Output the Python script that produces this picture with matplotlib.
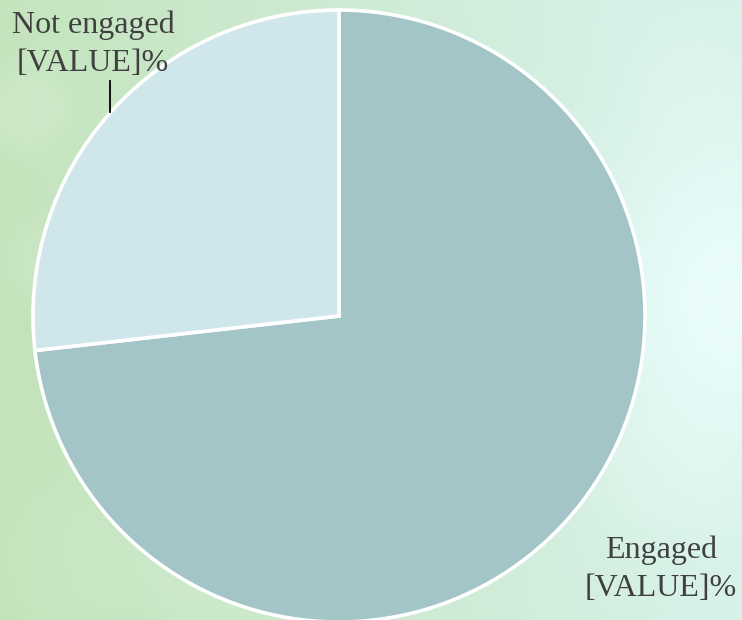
import numpy as np
import matplotlib
matplotlib.use("Agg")
import matplotlib.pyplot as plt
from matplotlib.lines import Line2D

# Data
labels = ["Engaged", "Not engaged"]
values = [73.2, 26.8]
label_texts = ["Engaged\n[VALUE]%", "Not engaged\n[VALUE]%"]
colors = ["#a4c5c8", "#cfe6ea"]

W, H = 742, 620
fig = plt.figure(figsize=(W / 100, H / 100), dpi=100)

# Soft green-to-mint background with a pale glow on the right
bg_ax = fig.add_axes([0, 0, 1, 1])
bg_ax.set_axis_off()
yy, xx = np.mgrid[0:H, 0:W]
u = xx / W
v = yy / H
green = np.array([0.765, 0.890, 0.730])
mint = np.array([0.840, 0.945, 0.905])
t = np.clip(u * 1.05 + 0.1 * (1 - v) - 0.02, 0, 1)[..., None]
img = green * (1 - t) + mint * t
glow_c = np.array([0.915, 0.990, 0.985])
d = np.sqrt(((xx - 730) / 180.0) ** 2 + ((yy - 300) / 240.0) ** 2)
g = np.exp(-d ** 2 * 1.6)[..., None]
img = img * (1 - g) + glow_c * g
# faint bokeh spots
for cx, cy, r, a in [(25, 110, 45, 0.18), (40, 260, 40, 0.10), (200, 560, 70, 0.12),
                     (60, 560, 80, 0.08), (690, 80, 60, 0.10), (660, 470, 70, 0.12)]:
    dd = np.sqrt((xx - cx) ** 2 + (yy - cy) ** 2) / r
    s = (np.exp(-dd ** 4) * a)[..., None]
    img = img * (1 - s) + np.array([0.95, 0.99, 0.95]) * s
bg_ax.imshow(np.clip(img, 0, 1), extent=[0, 1, 0, 1], aspect="auto", origin="upper")
bg_ax.set_xlim(0, 1)
bg_ax.set_ylim(0, 1)

# Pie axes: centre (339, 316) px, radius 306 px
cx, cy, R = 339, 316, 306
ax = fig.add_axes([(cx - R) / W, (H - cy - R) / H, 2 * R / W, 2 * R / H])
ax.pie(values, colors=colors, startangle=90, counterclock=False, radius=1,
       wedgeprops=dict(edgecolor="white", linewidth=2.6))
ax.set_xlim(-1, 1)
ax.set_ylim(-1, 1)
ax.set_aspect("equal")
ax.set_axis_off()

font = dict(family="Liberation Serif", fontsize=23, color="#404040",
            ha="center", va="center", linespacing=1.4)
fig.text(661 / W, 1 - 569 / H, label_texts[0], **font)
fig.text(93 / W, 1 - 44 / H, label_texts[1], **font)
fig.add_artist(Line2D([110 / W, 110 / W], [1 - 81 / H, 1 - 112 / H],
                      color="black", linewidth=1.3, transform=fig.transFigure))

fig.savefig("out.png", dpi=100)
